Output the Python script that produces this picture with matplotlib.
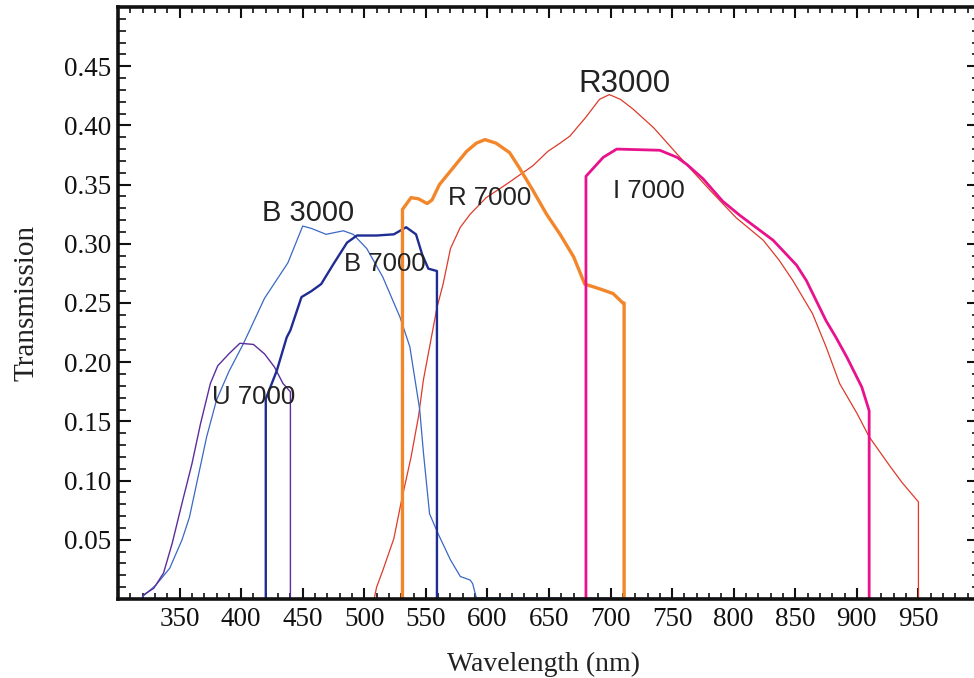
import numpy as np
import matplotlib
matplotlib.use("Agg")
from matplotlib import pyplot as plt
from matplotlib.ticker import MultipleLocator

# colors
U7_COL = "#5a2e9c"
B3_COL = "#3a68c4"
B7_COL = "#1f2c92"
R7_COL = "#f3862a"
R3_COL = "#de3a2a"
I7_COL = "#e8128c"

# U 7000
u7_wl = [320, 329, 337, 344, 352, 360, 367, 375, 381, 390, 399, 410, 419, 427, 434, 440, 440]
u7_tr = [0.003, 0.009, 0.022, 0.047, 0.081, 0.114, 0.148, 0.182, 0.197, 0.207, 0.216, 0.215, 0.207,
         0.196, 0.182, 0.175, 0.0]

# B 3000
b3_wl = [320, 331, 342, 352, 358, 365, 372, 380, 390, 402, 419, 438, 450, 457, 469, 483, 491, 502,
         515, 529, 537, 545, 548, 553, 560, 570, 578, 586, 588, 591, 1000]
b3_tr = [0.002, 0.012, 0.026, 0.050, 0.069, 0.103, 0.137, 0.168, 0.192, 0.216, 0.254, 0.284, 0.315,
         0.313, 0.308, 0.311, 0.308, 0.296, 0.272, 0.238, 0.213, 0.160, 0.124, 0.072, 0.055, 0.033,
         0.019, 0.016, 0.013, 0.001, 0.0]

# B 7000
b7_wl = [420, 420, 426, 429, 437, 440, 449, 457, 465, 475, 486, 494, 510, 524, 534, 542, 547, 552,
         559, 559]
b7_tr = [0.0, 0.169, 0.185, 0.193, 0.221, 0.227, 0.255, 0.260, 0.266, 0.283, 0.301, 0.307, 0.307,
         0.308, 0.314, 0.308, 0.291, 0.279, 0.277, 0.0]

# R 7000
r7_wl = [531, 531, 538, 544, 551, 555, 561, 572, 583, 591, 598, 607, 618, 626, 637, 648, 659, 670,
         679, 691, 702, 710, 711, 711]
r7_tr = [0.0, 0.329, 0.339, 0.338, 0.334, 0.337, 0.350, 0.364, 0.378, 0.385, 0.388, 0.385, 0.377,
         0.364, 0.345, 0.325, 0.308, 0.289, 0.266, 0.262, 0.258, 0.250, 0.250, 0.0]

# R 3000
r3_wl = [320, 508, 510, 515, 524, 530, 538, 544, 548, 559, 564, 570, 578, 586, 599, 615, 637, 649,
         659, 667, 680, 691, 699, 708, 718, 735, 759, 781, 802, 824, 837, 848, 864, 875, 886, 900,
         910, 927, 937, 950, 950, 1000]
r3_tr = [0.0, 0.0, 0.010, 0.024, 0.051, 0.082, 0.120, 0.154, 0.185, 0.246, 0.266, 0.296, 0.314,
         0.325, 0.339, 0.350, 0.366, 0.378, 0.385, 0.391, 0.407, 0.422, 0.426, 0.422, 0.414, 0.398,
         0.370, 0.345, 0.322, 0.303, 0.286, 0.269, 0.241, 0.213, 0.182, 0.157, 0.137, 0.112, 0.098,
         0.082, 0.0, 0.0]

# I 7000
i7_wl = [680, 680, 694, 705, 740, 754, 762, 775, 791, 805, 832, 851, 859, 867, 875, 883, 892, 904,
         910, 910]
i7_tr = [0.0, 0.357, 0.373, 0.380, 0.379, 0.373, 0.367, 0.355, 0.336, 0.324, 0.303, 0.282, 0.269,
         0.252, 0.235, 0.221, 0.204, 0.179, 0.159, 0.0]

# curve labels: (text, wavelength, transmission, size)
labels = [("B 3000", 417, 0.3195, 21), ("B 7000", 483.5, 0.277, 18.5), ("U 7000", 376.5, 0.165, 18.5),
          ("R 7000", 568, 0.333, 18.5), ("I 7000", 702, 0.339, 18.5), ("R3000", 673.5, 0.4285, 22.5)]

serif = "Liberation Serif"
sans = "Liberation Sans"

fig = plt.figure(figsize=(9.74, 6.78), dpi=100)
ax = fig.add_axes([118 / 974, 79 / 678, 862 / 974, 592 / 678])

ax.plot(r3_wl, r3_tr, color=R3_COL, linewidth=0.9, zorder=3)
ax.plot(b3_wl, b3_tr, color=B3_COL, linewidth=0.9, zorder=3)
ax.plot(u7_wl, u7_tr, color=U7_COL, linewidth=1.0, zorder=3)
ax.plot(b7_wl, b7_tr, color=B7_COL, linewidth=1.7, zorder=4)
ax.plot(r7_wl, r7_tr, color=R7_COL, linewidth=2.4, zorder=4)
ax.plot(i7_wl, i7_tr, color=I7_COL, linewidth=2.0, zorder=4)

for txt, x, y, fs in labels:
    ax.text(x, y, txt, fontsize=fs, family=sans, color="#222222", ha="left", va="baseline", zorder=6)

ax.set_xlim(300, 1000)
ax.set_ylim(0, 0.5)
ax.set_xticks(np.arange(350, 1000, 50))
ax.set_yticks([0.05, 0.10, 0.15, 0.20, 0.25, 0.30, 0.35, 0.40, 0.45])
ax.set_yticklabels([f"{v:.2f}" for v in ax.get_yticks()])
ax.xaxis.set_minor_locator(MultipleLocator(10))
ax.yaxis.set_minor_locator(MultipleLocator(0.01))

ax.tick_params(axis="both", which="both", direction="in", top=True, right=True, colors="#111111")
ax.tick_params(axis="x", which="major", length=8, width=1.5, labelsize=19.5, pad=6)
ax.tick_params(axis="x", which="minor", length=4, width=1.2)
ax.tick_params(axis="y", which="major", length=9.5, width=1.5, labelsize=19.5, pad=5)
ax.tick_params(axis="y", which="minor", length=5.5, width=1.2)
for lab in ax.get_xticklabels() + ax.get_yticklabels():
    lab.set_family(serif)

for side in ["left", "bottom", "top", "right"]:
    ax.spines[side].set_linewidth(2.6)
    ax.spines[side].set_color("#111111")
    ax.spines[side].set_zorder(5)

ax.set_xlabel("Wavelength (nm)", family=serif, fontsize=20, color="#222222")
ax.set_ylabel("Transmission", family=serif, fontsize=21, color="#222222")
ax.xaxis.set_label_coords(0.494, -0.09)
ax.yaxis.set_label_coords(-0.091, 0.5)

fig.savefig("out.png", dpi=100)
